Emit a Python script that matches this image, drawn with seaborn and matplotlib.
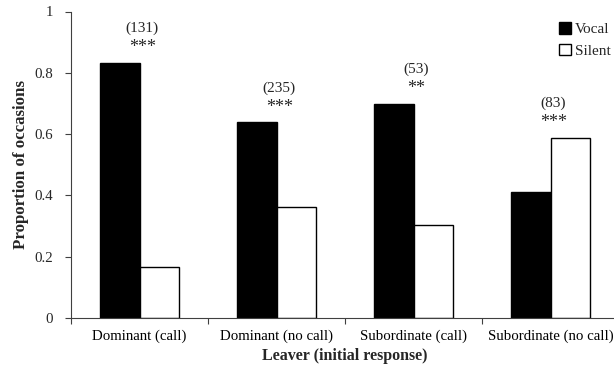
import matplotlib
matplotlib.use("Agg")
import matplotlib.pyplot as plt
import seaborn as sns
import pandas as pd
from matplotlib.ticker import FixedLocator

# Proportion of departures in which the follower was vocal or silent,
# split by the leaver's rank and initial response
categories = ["Dominant (call)", "Dominant (no call)", "Subordinate (call)", "Subordinate (no call)"]
vocal = [0.832, 0.638, 0.698, 0.412]
silent = [0.168, 0.362, 0.302, 0.588]
sample_sizes = ["(131)", "(235)", "(53)", "(83)"]
significance = ["***", "***", "**", "***"]

df = pd.DataFrame({
    "Leaver": categories * 2,
    "Response": ["Vocal"] * len(categories) + ["Silent"] * len(categories),
    "Proportion": vocal + silent,
})

sns.set_theme(style="white")
plt.rcParams["font.family"] = ["Liberation Serif", "DejaVu Serif"]

fig = plt.figure(figsize=(6.14, 3.70), dpi=100)
ax = fig.add_axes([71 / 614, 52 / 370, 548 / 614, 306.5 / 370])

sns.barplot(
    data=df, x="Leaver", y="Proportion", hue="Response",
    palette={"Vocal": "black", "Silent": "white"},
    edgecolor="black", linewidth=1.0, width=0.57, ax=ax,
)

ax.set_xlim(-0.5, 3.5)
ax.set_ylim(0, 1)
ax.set_yticks([0, 0.2, 0.4, 0.6, 0.8, 1])
ax.set_yticklabels(["0", "0.2", "0.4", "0.6", "0.8", "1"])

# category labels centred, tick marks on the boundaries between groups
ax.tick_params(axis="x", which="major", length=0, pad=8, labelsize=10.7, colors="black")
ax.xaxis.set_minor_locator(FixedLocator([-0.5, 0.5, 1.5, 2.5, 3.5]))
ax.tick_params(axis="x", which="minor", bottom=True, length=4, width=0.8, color="#404040")
ax.tick_params(axis="y", left=True, length=4, width=0.8, color="#404040", labelsize=10.7, pad=9)

for side in ("top", "right"):
    ax.spines[side].set_visible(False)
for side in ("left", "bottom"):
    ax.spines[side].set_color("#404040")
    ax.spines[side].set_linewidth(0.8)

ax.set_xlabel("Leaver (initial response)", fontsize=11.5, fontweight="bold", labelpad=4)
ax.set_ylabel("Proportion of occasions", fontsize=12.2, fontweight="bold", labelpad=3.5)

# sample size and significance above each pair of bars
for i, (n, sig) in enumerate(zip(sample_sizes, significance)):
    top = max(vocal[i], silent[i])
    ax.text(i + 0.02, top + 0.112, n, ha="center", va="center", fontsize=11)
    ax.text(i + 0.02, top + 0.05, sig, ha="center", va="center", fontsize=13)

ax.legend(
    loc="upper right", bbox_to_anchor=(611 / 614, 1 - 22 / 370),
    bbox_transform=fig.transFigure, frameon=False, fontsize=11,
    handlelength=0.75, handleheight=0.8, handletextpad=0.3, labelspacing=0.5,
    borderaxespad=0, borderpad=0, title=None,
)

fig.savefig("out.png", dpi=100)
